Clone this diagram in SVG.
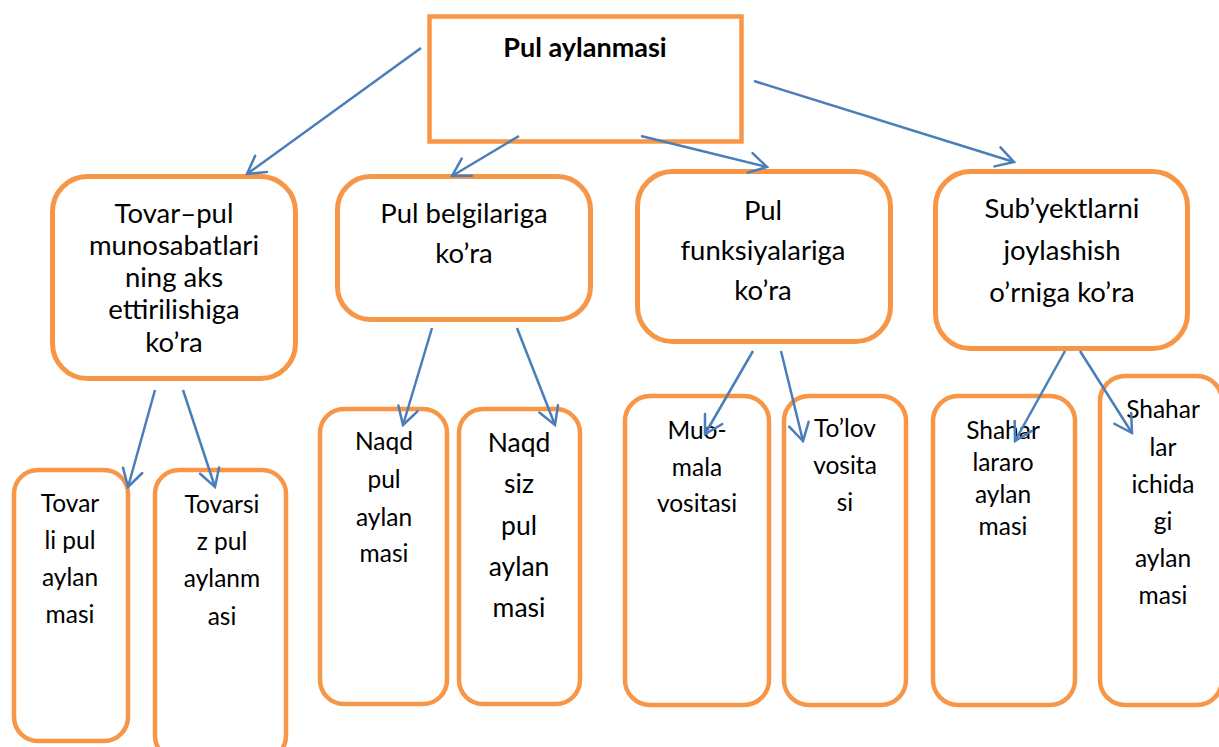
<svg xmlns="http://www.w3.org/2000/svg" width="1219" height="747" viewBox="0 0 1219 747">
  <style>
    .box { fill: #ffffff; stroke: #F79646; stroke-width: 5; }
    .leaf { fill: #ffffff; stroke: #F79646; stroke-width: 4.5; }
    .root { fill: #ffffff; stroke: #F79646; stroke-width: 4.5; }
    text { font-family: Lato, "Liberation Sans", sans-serif; fill: #000000; text-anchor: middle; }
    .t1 { font-size: 27.5px; }
    .t2 { font-size: 24.5px; }
    .t3 { font-size: 26.5px; }
    .title { font-size: 27px; font-weight: bold; }
    .conn { stroke: #4A7EBB; stroke-width: 2.5; fill: none; marker-end: url(#arrow); }
  </style>
  <defs>
    <marker id="arrow" markerUnits="userSpaceOnUse" viewBox="-20 -12 22 24" refX="0" refY="0" markerWidth="22" markerHeight="24" orient="auto">
      <path d="M -17.3,-10 L 0,0 L -17.3,10" fill="none" stroke="#4A7EBB" stroke-width="2.5" stroke-linecap="round" stroke-linejoin="miter"/>
    </marker>
  </defs>
  <rect width="1219" height="747" fill="#ffffff"/>

  <!-- root -->
  <g id="root">
    <rect class="root" x="429.5" y="16.5" width="312" height="125"/>
    <text class="title" x="585" y="57">Pul aylanmasi</text>
  </g>

  <!-- second level -->
  <g id="tovar-pul">
    <rect class="box" x="52.5" y="176.5" width="243" height="202" rx="35"/>
    <text class="t1" x="174" y="223">Tovar–pul</text>
    <text class="t1" x="174" y="255">munosabatlari</text>
    <text class="t1" x="174" y="287">ning aks</text>
    <text class="t1" x="174" y="319">ettirilishiga</text>
    <text class="t1" x="174" y="352">ko’ra</text>
  </g>
  <g id="belgilar">
    <rect class="box" x="337.5" y="176.5" width="253" height="143" rx="33"/>
    <text class="t1" x="464" y="223">Pul belgilariga</text>
    <text class="t1" x="464" y="263">ko’ra</text>
  </g>
  <g id="funksiyalar">
    <rect class="box" x="637.5" y="171.5" width="253" height="170" rx="35"/>
    <text class="t1" x="763" y="220">Pul</text>
    <text class="t1" x="763" y="260">funksiyalariga</text>
    <text class="t1" x="763" y="300">ko’ra</text>
  </g>
  <g id="subyektlar">
    <rect class="box" x="935.5" y="171.5" width="252" height="177" rx="35"/>
    <text class="t1" x="1062" y="218">Sub’yektlarni</text>
    <text class="t1" x="1062" y="260">joylashish</text>
    <text class="t1" x="1062" y="302">o’rniga ko’ra</text>
  </g>

  <!-- leaves -->
  <g id="tovarli">
    <rect class="leaf" x="14" y="470" width="114" height="271" rx="24"/>
    <text class="t2" x="70" y="512">Tovar</text>
    <text class="t2" x="70" y="549">li pul</text>
    <text class="t2" x="70" y="586">aylan</text>
    <text class="t2" x="70" y="623">masi</text>
  </g>
  <g id="tovarsiz">
    <rect class="leaf" x="155" y="470" width="131" height="290" rx="24"/>
    <text class="t2" x="222" y="513">Tovarsi</text>
    <text class="t2" x="222" y="550">z pul</text>
    <text class="t2" x="222" y="587">aylanm</text>
    <text class="t2" x="222" y="625">asi</text>
  </g>
  <g id="naqd">
    <rect class="leaf" x="320" y="409" width="127" height="295" rx="24"/>
    <text class="t2" x="384" y="450">Naqd</text>
    <text class="t2" x="384" y="488">pul</text>
    <text class="t2" x="384" y="526">aylan</text>
    <text class="t2" x="384" y="562">masi</text>
  </g>
  <g id="naqdsiz">
    <rect class="leaf" x="459" y="409" width="121" height="295" rx="24"/>
    <text class="t3" x="519" y="452">Naqd</text>
    <text class="t3" x="519" y="493">siz</text>
    <text class="t3" x="519" y="535">pul</text>
    <text class="t3" x="519" y="576">aylan</text>
    <text class="t3" x="519" y="617">masi</text>
  </g>
  <g id="muomala">
    <rect class="leaf" x="625" y="396" width="144" height="309" rx="25"/>
    <text class="t2" x="697" y="439">Muo-</text>
    <text class="t2" x="697" y="476">mala</text>
    <text class="t2" x="697" y="512">vositasi</text>
  </g>
  <g id="tolov">
    <rect class="leaf" x="784" y="396" width="122" height="309" rx="25"/>
    <text class="t2" x="845" y="437">To’lov</text>
    <text class="t2" x="845" y="474">vosita</text>
    <text class="t2" x="845" y="511">si</text>
  </g>
  <g id="shaharlararo">
    <rect class="leaf" x="933" y="396" width="142" height="309" rx="25"/>
    <text class="t2" x="1003" y="439">Shahar</text>
    <text class="t2" x="1003" y="471">lararo</text>
    <text class="t2" x="1003" y="503">aylan</text>
    <text class="t2" x="1003" y="535">masi</text>
  </g>
  <g id="shahar-ichida">
    <rect class="leaf" x="1100" y="376" width="122" height="329" rx="25"/>
    <text class="t2" x="1163" y="418">Shahar</text>
    <text class="t2" x="1163" y="456">lar</text>
    <text class="t2" x="1163" y="493">ichida</text>
    <text class="t2" x="1163" y="530">gi</text>
    <text class="t2" x="1163" y="567">aylan</text>
    <text class="t2" x="1163" y="604">masi</text>
  </g>

  <!-- connectors -->
  <g id="connectors">
    <line class="conn" x1="421" y1="48" x2="247" y2="174"/>
    <line class="conn" x1="519" y1="136" x2="452" y2="176"/>
    <line class="conn" x1="641" y1="136" x2="767" y2="167"/>
    <line class="conn" x1="754" y1="81" x2="1014" y2="162"/>
    <line class="conn" x1="155" y1="390" x2="128" y2="487"/>
    <line class="conn" x1="183" y1="390" x2="215" y2="487"/>
    <line class="conn" x1="432" y1="328" x2="403" y2="425"/>
    <line class="conn" x1="517" y1="328" x2="555" y2="425"/>
    <line class="conn" x1="753" y1="351" x2="705" y2="434"/>
    <line class="conn" x1="781" y1="351" x2="803" y2="441"/>
    <line class="conn" x1="1065" y1="351" x2="1015" y2="441"/>
    <line class="conn" x1="1080" y1="351" x2="1132" y2="433"/>
  </g>
</svg>
